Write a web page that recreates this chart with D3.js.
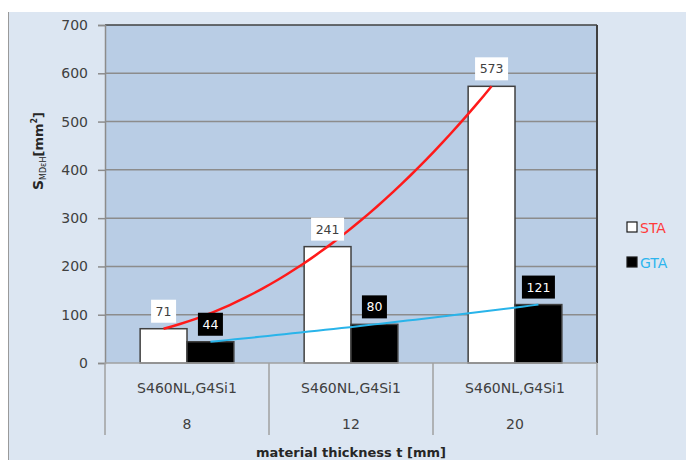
<!DOCTYPE html>
<html>
<head>
<meta charset="utf-8">
<script src="https://cdn.jsdelivr.net/npm/d3@7"></script>
<style>
  html, body { margin: 0; padding: 0; background: #ffffff; }
  svg { display: block; font-family: "DejaVu Sans", sans-serif; }
</style>
</head>
<body>
<svg id="chart" width="686" height="460"></svg>
<script>
// Weld seam area by material thickness
const thickness = ["8", "12", "20"];
const material = ["S460NL,G4Si1", "S460NL,G4Si1", "S460NL,G4Si1"];
const seriesNames = ["STA", "GTA"];
const staValues = [71, 241, 573];
const gtaValues = [44, 80, 121];
const yTicks = [0, 100, 200, 300, 400, 500, 600, 700];

const series = [
  { name: "STA", values: staValues, fill: "#ffffff", text: "#404040", trend: "#ff1a1a", legendColor: "#ff3b3b" },
  { name: "GTA", values: gtaValues, fill: "#000000", text: "#ffffff", trend: "#29b4ea", legendColor: "#2cb5ee" }
];

const svg = d3.select("#chart");

const plot = { left: 105, right: 597, top: 25, bottom: 363 };

// chart background with a left edge line
svg.append("rect")
  .attr("x", 8).attr("y", 12).attr("width", 690).attr("height", 460)
  .attr("fill", "#dce6f2");
svg.append("line")
  .attr("x1", 8.5).attr("x2", 8.5).attr("y1", 12).attr("y2", 460)
  .attr("stroke", "#9a9a9a").attr("stroke-width", 1);

// plot background
svg.append("rect")
  .attr("x", plot.left).attr("y", plot.top)
  .attr("width", plot.right - plot.left).attr("height", plot.bottom - plot.top)
  .attr("fill", "#b9cde5");

const x = d3.scaleBand().domain(d3.range(thickness.length)).range([plot.left, plot.right]).padding(0);
const xs = d3.scaleBand().domain(seriesNames).range([0, x.bandwidth()]).paddingInner(0).paddingOuter(0.75);
const y = d3.scaleLinear().domain([0, 700]).range([plot.bottom, plot.top]);

// horizontal gridlines
svg.append("g").selectAll("line").data(yTicks.filter(d => d > 0)).join("line")
  .attr("x1", plot.left).attr("x2", plot.right)
  .attr("y1", d => y(d)).attr("y2", d => y(d))
  .attr("stroke", d => d === 700 ? "#404040" : "#8c8c8c").attr("stroke-width", 1.5);

// right border of plot
svg.append("line")
  .attr("x1", plot.right).attr("x2", plot.right).attr("y1", plot.top).attr("y2", plot.bottom)
  .attr("stroke", "#404040").attr("stroke-width", 2);

// y axis
const yAxis = d3.axisLeft(y).tickValues(yTicks).tickSize(7).tickPadding(10);
const gy = svg.append("g").attr("transform", `translate(${plot.left},0)`).call(yAxis);
gy.select(".domain").attr("stroke", "#8c8c8c").attr("stroke-width", 1.5);
gy.selectAll(".tick line").attr("stroke", "#8c8c8c").attr("stroke-width", 1.5);
gy.selectAll(".tick text").attr("fill", "#404040").style("font-size", "14px")
  .style("font-family", "DejaVu Sans, sans-serif");

// bars
series.forEach(s => {
  svg.append("g").selectAll("rect").data(s.values).join("rect")
    .attr("x", (d, i) => x(i) + xs(s.name))
    .attr("y", d => y(d))
    .attr("width", xs.bandwidth())
    .attr("height", d => y(0) - y(d))
    .attr("fill", s.fill)
    .attr("stroke", "#404040").attr("stroke-width", 1.5);
});

// polynomial trendlines (order 2) through each series
function polyTrend(vals) {
  const n = vals.length;
  return t => {
    let sum = 0;
    for (let i = 0; i < n; i++) {
      let term = vals[i];
      for (let j = 0; j < n; j++) if (j !== i) term *= (t - j) / (i - j);
      sum += term;
    }
    return sum;
  };
}
const trendLine = d3.line().curve(d3.curveLinear);
series.forEach(s => {
  const f = polyTrend(s.values);
  const pts = d3.range(0, s.values.length - 1 + 1e-9, 0.05).map(t => {
    const px = x(0) + xs(s.name) + xs.bandwidth() / 2 + t * x.step();
    return [px, y(f(t))];
  });
  svg.append("path").attr("d", trendLine(pts))
    .attr("fill", "none").attr("stroke", s.trend).attr("stroke-width", s.name === "STA" ? 2.5 : 2);
});

// data labels
series.forEach(s => {
  const g = svg.append("g");
  s.values.forEach((v, i) => {
    const cx = x(i) + xs(s.name) + xs.bandwidth() / 2;
    const label = String(v);
    const w = label.length * 8 + 9;
    const h = 23;
    const by = y(v) - 6 - h;
    g.append("rect").attr("x", cx - w / 2).attr("y", by).attr("width", w).attr("height", h)
      .attr("fill", s.fill);
    g.append("text").attr("x", cx).attr("y", by + h / 2 + 4.5)
      .attr("text-anchor", "middle").attr("fill", s.text)
      .style("font-size", "12.5px").text(label);
  });
});

// category axis with two label rows
const axisColor = "#a0a0a0";
svg.append("line").attr("x1", plot.left).attr("x2", plot.right)
  .attr("y1", plot.bottom).attr("y2", plot.bottom)
  .attr("stroke", axisColor).attr("stroke-width", 1.5);
svg.append("g").selectAll("line").data(d3.range(thickness.length + 1)).join("line")
  .attr("x1", i => plot.left + i * x.step()).attr("x2", i => plot.left + i * x.step())
  .attr("y1", plot.bottom).attr("y2", 435)
  .attr("stroke", axisColor).attr("stroke-width", 1.5);
svg.append("g").selectAll("text").data(material).join("text")
  .attr("x", (d, i) => x(i) + x.bandwidth() / 2).attr("y", 393)
  .attr("text-anchor", "middle").attr("fill", "#404040").style("font-size", "14px")
  .text(d => d);
svg.append("g").selectAll("text").data(thickness).join("text")
  .attr("x", (d, i) => x(i) + x.bandwidth() / 2).attr("y", 429)
  .attr("text-anchor", "middle").attr("fill", "#404040").style("font-size", "14px")
  .text(d => d);

// axis titles
svg.append("text").attr("x", (plot.left + plot.right) / 2).attr("y", 457)
  .attr("text-anchor", "middle").attr("fill", "#262626")
  .style("font-size", "13px").style("font-weight", "bold")
  .text("material thickness t [mm]");

const yt = svg.append("text")
  .attr("transform", "translate(43,151) rotate(-90)")
  .attr("text-anchor", "middle").attr("fill", "#262626")
  .style("font-size", "13px").style("font-weight", "bold");
yt.append("tspan").style("font-size", "14px").text("S");
yt.append("tspan").attr("dy", 3).style("font-size", "8px").style("font-weight", "normal").text("MDεH");
yt.append("tspan").attr("dy", -3).text("[mm");
yt.append("tspan").attr("dy", -6).style("font-size", "8px").text("2");
yt.append("tspan").attr("dy", 6).text("]");

// legend
const legend = svg.append("g");
series.forEach((s, i) => {
  const ly = 222 + i * 35;
  legend.append("rect").attr("x", 627).attr("y", ly).attr("width", 10).attr("height", 10)
    .attr("fill", s.fill).attr("stroke", "#1a1a1a").attr("stroke-width", 1.2);
  legend.append("text").attr("x", 640).attr("y", ly + 10.5)
    .attr("fill", s.legendColor).style("font-size", "14px").text(s.name);
});
</script>
</body>
</html>
